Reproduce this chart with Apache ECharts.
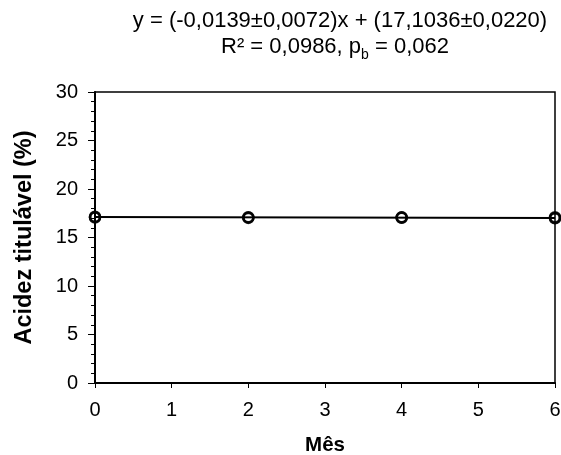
<!DOCTYPE html>
<html>
<head>
<meta charset="utf-8">
<script src="https://cdn.jsdelivr.net/npm/echarts@6/dist/echarts.min.js"></script>
<style>html,body{margin:0;padding:0;background:#fff;}#c{width:561px;height:455px;}</style>
</head>
<body>
<div id="c"></div>
<script>
const months = [0, 0, 0, 2, 2, 2, 4, 4, 4, 6, 6, 6];
const acidity = [17.15, 17.05, 17.10, 17.05, 17.10, 17.02, 17.06, 17.03, 17.08, 17.00, 17.10, 16.98];
const fitX = [0, 6];
const fitY = [17.1036, 17.0202];
const yTicks = [0, 5, 10, 15, 20, 25, 30];
const xTicks = [0, 1, 2, 3, 4, 5, 6];
const eqLine = 'y = (-0,0139±0,0072)x + (17,1036±0,0220)';

const chart = echarts.init(document.getElementById('c'), null, {renderer: 'canvas'});
const font = 'Liberation Sans, Arial, sans-serif';
const richStyles = {
  a: {fontFamily: font, fontSize: 22, fontWeight: 'normal', color: '#000', lineHeight: 25, verticalAlign: 'bottom'},
  s: {fontFamily: font, fontSize: 14, fontWeight: 'normal', color: '#000', lineHeight: 25, verticalAlign: 'bottom', padding: [0, 0, -4, 0]}
};
chart.setOption({
  backgroundColor: '#fff',
  animation: false,
  title: [
    {
      text: '{a|' + eqLine + '}',
      left: 335, top: 2, textAlign: 'center',
      textStyle: {fontWeight: 'normal', rich: richStyles}
    },
    {
      text: '{a|R² = 0,0986, p}{s|b}{a| = 0,062}',
      left: 330, top: 28, textAlign: 'center',
      textStyle: {fontWeight: 'normal', rich: richStyles}
    }
  ],
  grid: {left: 95, right: 6, top: 92, bottom: 72, outerBoundsMode: 'none', containLabel: false, show: true, borderColor: '#000', borderWidth: 1.5, backgroundColor: '#fff'},
  xAxis: {
    type: 'value', min: xTicks[0], max: xTicks[xTicks.length - 1], interval: 1,
    name: 'Mês', nameLocation: 'middle', nameGap: 52,
    nameTextStyle: {fontFamily: font, fontSize: 20.5, fontWeight: 'bold', color: '#000'},
    axisLine: {show: true, onZero: false, lineStyle: {color: '#000', width: 2}},
    axisTick: {show: true, length: 5, lineStyle: {color: '#000', width: 1}},
    axisLabel: {fontFamily: font, fontSize: 20, color: '#000', margin: 17},
    splitLine: {show: false}
  },
  yAxis: {
    type: 'value', min: yTicks[0], max: yTicks[yTicks.length - 1], interval: 5,
    name: 'Acidez titulável (%)', nameLocation: 'middle', nameGap: 58,
    nameTextStyle: {fontFamily: font, fontSize: 23.5, fontWeight: 'bold', color: '#000'},
    axisLine: {show: true, onZero: false, lineStyle: {color: '#000', width: 2}},
    axisTick: {show: true, length: 7, lineStyle: {color: '#000', width: 1}},
    minorTick: {show: true, splitNumber: 5, length: 4, lineStyle: {color: '#000', width: 1}},
    axisLabel: {fontFamily: font, fontSize: 20, color: '#000', margin: 17},
    splitLine: {show: false}
  },
  series: [
    {
      type: 'line', data: fitX.map((x, i) => [x, fitY[i]]),
      showSymbol: false, symbol: 'none',
      lineStyle: {color: '#000', width: 2}, z: 2
    },
    {
      type: 'scatter', data: months.map((m, i) => [m, acidity[i]]),
      symbol: 'circle', symbolSize: 10,
      itemStyle: {color: 'rgba(255,255,255,0)', borderColor: '#000', borderWidth: 2.5}, z: 3
    }
  ]
});
</script>
</body>
</html>
